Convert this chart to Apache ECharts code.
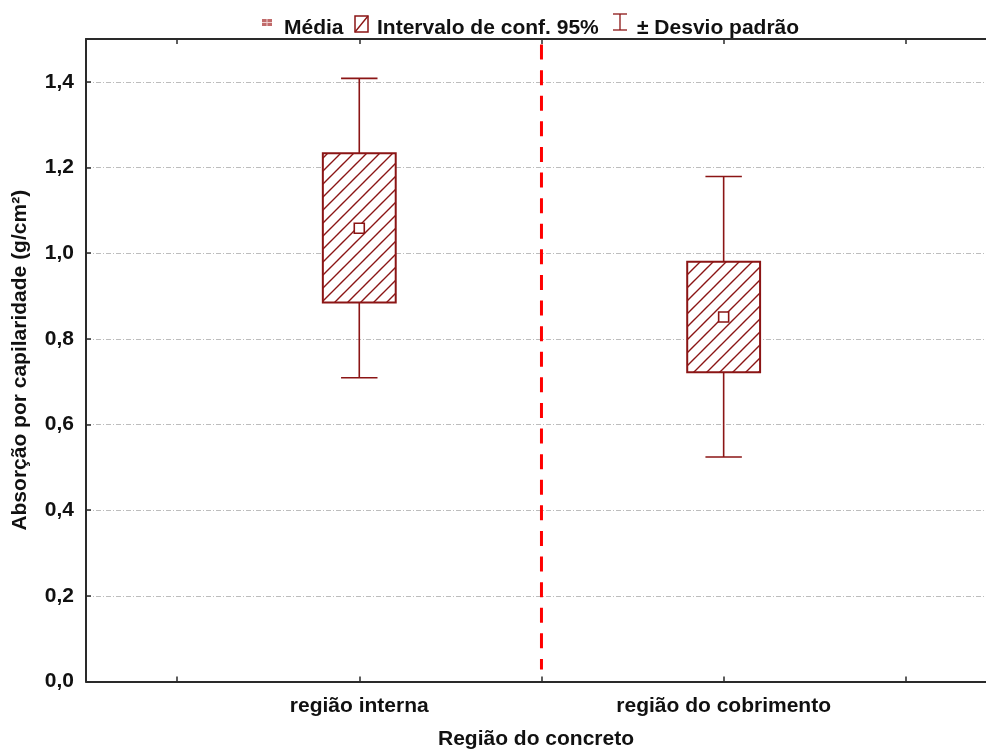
<!DOCTYPE html>
<html>
<head>
<meta charset="utf-8">
<script src="https://cdn.jsdelivr.net/npm/echarts@6/dist/echarts.min.js"></script>
<style>
  html, body { margin: 0; padding: 0; background: #fff; overflow: hidden; }
  #chart { width: 986px; height: 755px; }
</style>
</head>
<body>
<div id="chart"></div>
<script>
// Absorção por capilaridade por região do concreto: média, IC 95% e ± desvio padrão
const categories = ['região interna', 'região do cobrimento'];
const catPos = [1, 2];
const means = [1.058, 0.851];
const ciLow = [0.885, 0.722];
const ciHigh = [1.233, 0.980];
const sdLow = [0.709, 0.524];
const sdHigh = [1.408, 1.179];

const yTicks = [0, 0.2, 0.4, 0.6, 0.8, 1.0, 1.2, 1.4];
const xTicks = [0.5, 1, 1.5, 2, 2.5];

// dashed separator between the two regions (drawn top to bottom)
const dividerX = 1.5;
const dividerSpan = [1.487, 0.028];

const DARK_RED = '#8b1515';
const FONT = '"Liberation Sans", Arial, sans-serif';
const FS = 21;

// diagonal hatch tile for the confidence-interval boxes
function makeHatch() {
  const s = 13;
  const c = document.createElement('canvas');
  c.width = s; c.height = s;
  const g = c.getContext('2d');
  g.strokeStyle = DARK_RED;
  g.lineWidth = 1.4;
  g.beginPath();
  g.moveTo(-2, s + 2); g.lineTo(s + 2, -2);
  g.moveTo(-2, 2); g.lineTo(2, -2);
  g.moveTo(s - 2, s + 2); g.lineTo(s + 2, s - 2);
  g.stroke();
  return c;
}
const hatch = { image: makeHatch(), repeat: 'repeat' };

const boxData = categories.map((c, i) => [catPos[i], means[i], ciLow[i], ciHigh[i], sdLow[i], sdHigh[i]]);

function renderBox(params, api) {
  const x = api.value(0);
  const pm = api.coord([x, api.value(1)]);
  const pcl = api.coord([x, api.value(2)]);
  const pch = api.coord([x, api.value(3)]);
  const psl = api.coord([x, api.value(4)]);
  const psh = api.coord([x, api.value(5)]);
  const boxW = api.size([0.2, 0])[0];
  const capW = api.size([0.1, 0])[0];
  const ms = 10;
  const line = { stroke: DARK_RED, lineWidth: 1.6 };
  return {
    type: 'group',
    children: [
      { type: 'line', shape: { x1: pm[0], y1: psh[1], x2: pm[0], y2: psl[1] }, style: line },
      { type: 'line', shape: { x1: pm[0] - capW / 2, y1: psh[1], x2: pm[0] + capW / 2, y2: psh[1] }, style: line },
      { type: 'line', shape: { x1: pm[0] - capW / 2, y1: psl[1], x2: pm[0] + capW / 2, y2: psl[1] }, style: line },
      { type: 'rect', shape: { x: pm[0] - boxW / 2, y: pch[1], width: boxW, height: pcl[1] - pch[1] },
        style: { fill: '#fff', stroke: null } },
      { type: 'rect', shape: { x: pm[0] - boxW / 2, y: pch[1], width: boxW, height: pcl[1] - pch[1] },
        style: { fill: hatch, stroke: DARK_RED, lineWidth: 2 } },
      { type: 'rect', shape: { x: pm[0] - ms / 2, y: pm[1] - ms / 2, width: ms, height: ms },
        style: { fill: '#fff', stroke: DARK_RED, lineWidth: 1.6 } }
    ]
  };
}

const axisLineStyle = { color: '#2a2a2a', width: 2 };
const textBase = { fontFamily: FONT, fontWeight: 'bold', fontSize: FS, color: '#111' };

const chart = echarts.init(document.getElementById('chart'), null, { renderer: 'canvas', width: 986, height: 755 });
chart.setOption({
  backgroundColor: '#fff',
  animation: false,
  grid: { left: 86, width: 900, top: 39, height: 648 },
  xAxis: [
    {
      type: 'value', position: 'bottom', min: 0.25, max: 2.72,
      name: 'Região do concreto', nameLocation: 'middle', nameGap: 58,
      nameTextStyle: Object.assign({ verticalAlign: 'middle' }, textBase),
      axisLine: { show: true, onZero: false, lineStyle: axisLineStyle },
      axisTick: { show: true, inside: true, length: 5, customValues: xTicks, lineStyle: { color: '#2a2a2a', width: 1.5 } },
      axisLabel: Object.assign({
        customValues: catPos, margin: 14,
        formatter: v => categories[catPos.indexOf(Math.round(v))] || ''
      }, textBase),
      splitLine: { show: false }
    },
    {
      type: 'value', position: 'top', min: 0.25, max: 2.72,
      axisLine: { show: true, onZero: false, lineStyle: axisLineStyle },
      axisTick: { show: true, inside: true, length: 5, customValues: xTicks, lineStyle: { color: '#2a2a2a', width: 1.5 } },
      axisLabel: { show: false },
      splitLine: { show: false }
    }
  ],
  yAxis: {
    type: 'value', min: 0, max: 1.5, interval: 0.2,
    name: 'Absorção por capilaridade (g/cm²)', nameLocation: 'middle', nameGap: 66,
    nameTextStyle: Object.assign({ verticalAlign: 'middle' }, textBase),
    axisLine: { show: true, lineStyle: axisLineStyle },
    axisTick: { show: true, inside: true, length: 5, customValues: yTicks, lineStyle: { color: '#2a2a2a', width: 1.5 } },
    axisLabel: Object.assign({
      customValues: yTicks, margin: 12,
      formatter: v => v.toFixed(1).replace('.', ',')
    }, textBase),
    splitLine: { show: true, lineStyle: { color: '#bdbdbd', width: 1, type: [5, 2, 1, 2] } }
  },
  series: [
    {
      type: 'line', xAxisIndex: 0, silent: true, symbol: 'none',
      data: dividerSpan.map(v => [dividerX, v]),
      lineStyle: { color: '#ff0000', width: 3, type: [15, 10.6] },
      z: 3
    },
    {
      type: 'custom', name: 'Intervalo de conf. 95%', xAxisIndex: 0,
      renderItem: renderBox,
      encode: { x: 0, y: [1, 2, 3, 4, 5] },
      data: boxData,
      z: 4
    }
  ],
  graphic: [
    // legend: média
    { type: 'rect', shape: { x: 262, y: 19, width: 10, height: 7 }, style: { fill: '#c06a6a' } },
    { type: 'line', shape: { x1: 262, y1: 22.5, x2: 272, y2: 22.5 }, style: { stroke: '#f0d0d0', lineWidth: 1 } },
    { type: 'line', shape: { x1: 267, y1: 19, x2: 267, y2: 26 }, style: { stroke: '#f0d0d0', lineWidth: 1 } },
    { type: 'text', x: 284, y: 28, style: { text: 'Média', font: `bold ${FS}px ${FONT}`, fill: '#111', verticalAlign: 'middle' } },
    // legend: intervalo de confiança
    { type: 'rect', shape: { x: 355, y: 16, width: 13, height: 16 }, style: { fill: '#fff', stroke: DARK_RED, lineWidth: 1.5 } },
    { type: 'line', shape: { x1: 355, y1: 32, x2: 368, y2: 16 }, style: { stroke: DARK_RED, lineWidth: 1.3 } },
    { type: 'text', x: 377, y: 28, style: { text: 'Intervalo de conf. 95%', font: `bold ${FS}px ${FONT}`, fill: '#111', verticalAlign: 'middle' } },
    // legend: desvio padrão
    { type: 'line', shape: { x1: 620, y1: 14, x2: 620, y2: 30 }, style: { stroke: DARK_RED, lineWidth: 1.3 } },
    { type: 'line', shape: { x1: 613, y1: 14, x2: 627, y2: 14 }, style: { stroke: DARK_RED, lineWidth: 1.3 } },
    { type: 'line', shape: { x1: 613, y1: 30, x2: 627, y2: 30 }, style: { stroke: DARK_RED, lineWidth: 1.3 } },
    { type: 'text', x: 637, y: 28, style: { text: '± Desvio padrão', font: `bold ${FS}px ${FONT}`, fill: '#111', verticalAlign: 'middle' } }
  ]
});
</script>
</body>
</html>
